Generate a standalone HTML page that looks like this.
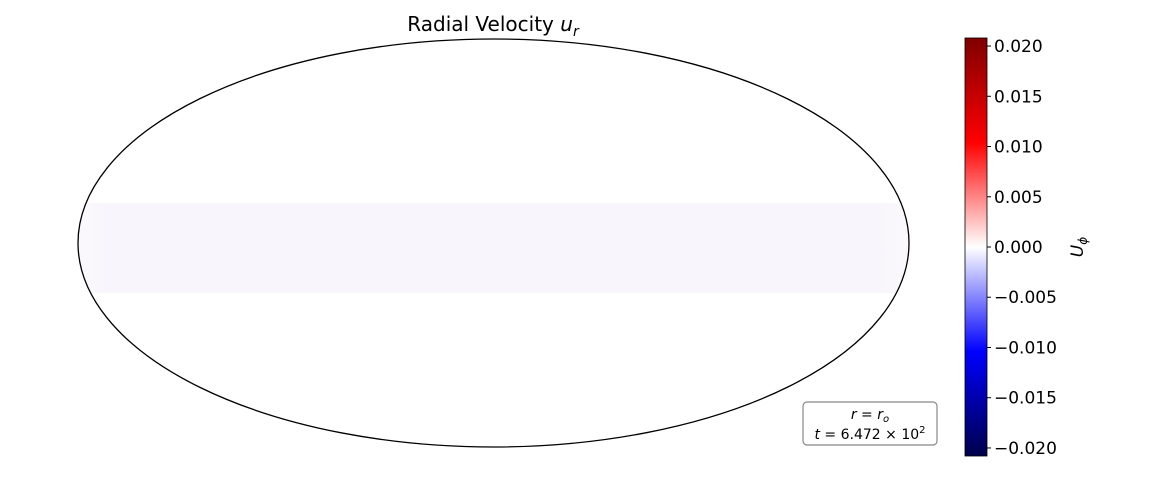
<!DOCTYPE html>
<html><head><meta charset="utf-8"><style>
body{margin:0;background:#fff;}
svg{display:block;font-family:"DejaVu Sans","Liberation Sans",sans-serif;}
</style></head><body>
<svg id="chart" width="1152" height="480">
<defs>
<linearGradient id="cmap" x1="0" y1="1" x2="0" y2="0">
<stop offset="0" stop-color="#00004c"/>
<stop offset="0.25" stop-color="#0000ff"/>
<stop offset="0.5" stop-color="#ffffff"/>
<stop offset="0.75" stop-color="#ff0000"/>
<stop offset="1" stop-color="#800000"/>
</linearGradient>
<linearGradient id="band" x1="0" y1="0" x2="1" y2="0">
<stop offset="0" stop-color="#fbf9fd"/>
<stop offset="0.05" stop-color="#f8f6fc"/>
<stop offset="0.95" stop-color="#f8f6fc"/>
<stop offset="1" stop-color="#fbf9fd"/>
</linearGradient>
<clipPath id="ell"><ellipse cx="493.5" cy="243" rx="415.5" ry="204"/></clipPath>
</defs>
<text x="493" y="31" text-anchor="middle" font-size="20">Radial Velocity <tspan font-style="italic">u</tspan><tspan font-style="italic" font-size="14" dy="5">r</tspan></text>
<g clip-path="url(#ell)">
<rect x="70" y="203" width="850" height="90" fill="url(#band)"/>
</g>
<ellipse cx="493.5" cy="243" rx="415.5" ry="204" fill="none" stroke="#000" stroke-width="1.3"/>
<rect x="803" y="402" width="134" height="43" rx="4" fill="#fff" stroke="#888" stroke-width="1.2"/>
<text x="870" y="419" text-anchor="middle" font-size="14"><tspan font-style="italic">r</tspan> = <tspan font-style="italic">r</tspan><tspan font-style="italic" font-size="10" dy="3">o</tspan></text>
<text x="870" y="439" text-anchor="middle" font-size="14"><tspan font-style="italic">t</tspan> = 6.472 × 10<tspan font-size="10" dy="-6">2</tspan></text>
<rect x="965" y="38" width="22" height="418" fill="url(#cmap)" stroke="#000" stroke-width="0.8"/>
<g id="ticks"></g>
<text transform="translate(1083,247) rotate(-90)" text-anchor="middle" font-size="17"><tspan font-style="italic">U</tspan><tspan font-style="italic" font-size="12" dy="4">ϕ</tspan></text>
</svg>
<script>
const tickValues=[0.020,0.015,0.010,0.005,0.000,-0.005,-0.010,-0.015,-0.020];
const tickLabels=["0.020","0.015","0.010","0.005","0.000","\u22120.005","\u22120.010","\u22120.015","\u22120.020"];
const vmin=-0.0208, vmax=0.0208;
function y(v){return 456-(v-vmin)/(vmax-vmin)*418;}
const g=document.getElementById('ticks');
const ns='http://www.w3.org/2000/svg';
tickValues.forEach((v,i)=>{
  const l=document.createElementNS(ns,'line');
  l.setAttribute('x1',987);l.setAttribute('x2',991);
  l.setAttribute('y1',y(v));l.setAttribute('y2',y(v));
  l.setAttribute('stroke','#000');
  
  
  g.appendChild(l);
  const t=document.createElementNS(ns,'text');
  t.setAttribute('x',994);t.setAttribute('y',y(v)+6);
  t.setAttribute('font-size','17');
  t.textContent=tickLabels[i];
  
  
  g.appendChild(t);
});
</script>
</body></html>
